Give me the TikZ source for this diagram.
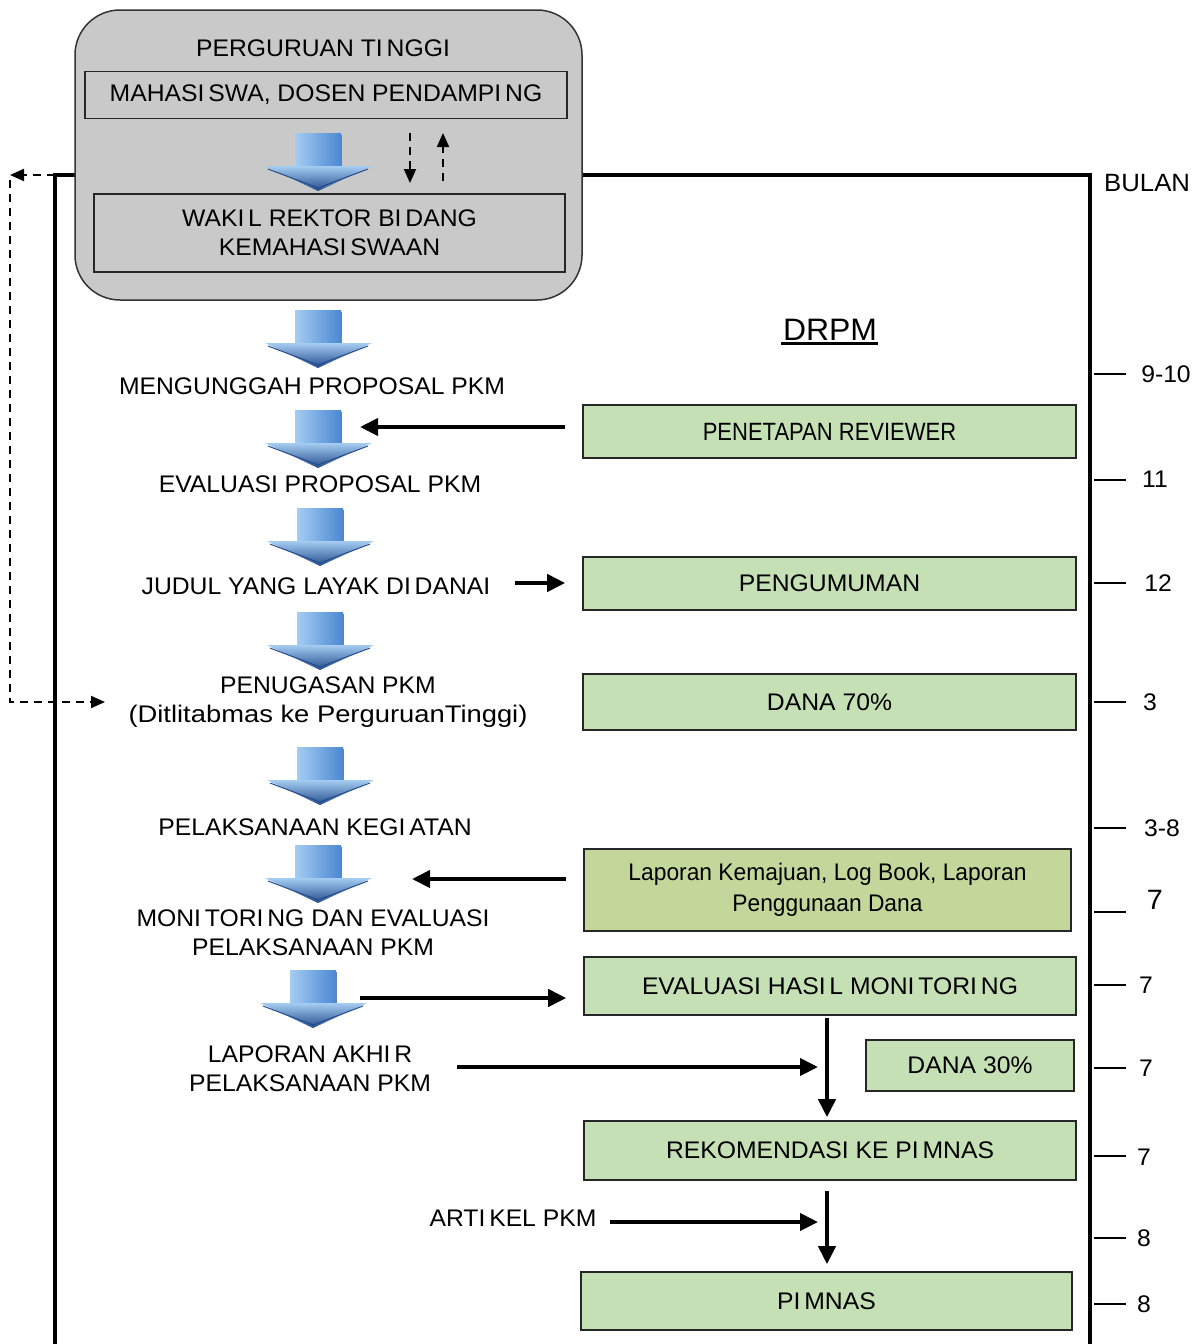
\documentclass[tikz,border=0pt]{standalone}
\usepackage{fontspec}
\setmainfont[FakeStretch=1.03]{Liberation Sans}
\newfontfamily\narrowfont[FakeStretch=0.88]{Liberation Sans}
\newfontfamily\semifont[FakeStretch=0.95]{Liberation Sans}
\newfontfamily\wideLC[FakeStretch=1.14]{Liberation Sans}
\newcommand\Ik{I\kern0.16em}
\usetikzlibrary{arrows.meta}
\definecolor{greyfill}{RGB}{201,201,201}
\definecolor{greenfill}{RGB}{197,224,180}
\definecolor{olivefill}{RGB}{196,215,155}
\definecolor{blueA}{RGB}{165,205,242}
\definecolor{blueB}{RGB}{75,135,210}
\definecolor{blueC}{RGB}{35,75,140}
\begin{document}
\begin{tikzpicture}[x=1pt,y=-1pt,
  lbl/.style={font=\fontsize{24}{29}\selectfont, align=center, inner sep=0pt},
  gbox/.style={draw=black!85, line width=1.6pt, fill=greenfill, inner sep=0pt, align=center, font=\fontsize{24}{29}\selectfont},
  ibox/.style={draw=black!85, line width=1.4pt, fill=greyfill, inner sep=0pt, align=center, font=\fontsize{24}{29}\selectfont},
  thickarr/.style={line width=4pt, -{Triangle[length=18pt,width=17pt]}},
  dasharr/.style={line width=2pt, dash pattern=on 8pt off 6pt, -{Triangle[length=14pt,width=12pt]}},
  tick/.style={line width=2pt},
  blockarr/.pic={
    \shade[left color=blueA, right color=blueB] (-23,0) rectangle (23,36);
    \draw[blueC!70, line width=0.8pt] (23,2) -- (23,36);
    \shade[top color=blueA, bottom color=blueC] (-53,33) -- (54,33) -- (0,58) -- cycle;
    \draw[blueC, line width=1pt] (-50,36) -- (0,55) -- (50,36);
  }]
\useasboundingbox (0,0) rectangle (1200,1344);
\clip (0,0) rectangle (1200,1344);
% main frame
\coordinate (fc) at (55,175);
\draw[line width=4.5pt] (55,1360) -- (fc) -- (1090,175) -- (1090,1360);
% grey box
\node[draw=black!80, line width=1.5pt, rounded corners=45pt, fill=greyfill, minimum width=507pt, minimum height=290pt] (pt) at (328.5,155) {};
\node[lbl] (ptt) at (323,48) {PERGURUAN T\Ik NGGI};
\node[ibox, minimum width=482pt, minimum height=47pt] (mhs) at (326,95) {MAHAS\Ik SWA, DOSEN PENDAMP\Ik NG};
\node[ibox, minimum width=471pt, minimum height=78pt] (wr) at (329.5,233) {WAK\Ik L REKTOR B\Ik DANG\\KEMAHAS\Ik SWAAN};
\pic at (318,133) {blockarr};
\coordinate (d1) at (410,133); \coordinate (d2) at (410,183);
\coordinate (u1) at (443,181); \coordinate (u2) at (443,133);
\draw[dasharr] (d1) -- (d2);
\draw[dasharr] (u1) -- (u2);
% left dashed
\coordinate (lt) at (10,175);
\coordinate (lb) at (105,702);
\draw[dasharr] (fc) -- (lt);
\draw[dasharr] ([yshift=-5pt]lt) |- (lb);
% flow column
\pic at (318,310) {blockarr};
\node[lbl] (t1) at (312,386) {MENGUNGGAH PROPOSAL PKM};
\pic at (318,410) {blockarr};
\node[lbl] (t2) at (320,484) {EVALUASI PROPOSAL PKM};
\pic at (320,508) {blockarr};
\node[lbl] (t3) at (316,586) {JUDUL YANG LAYAK D\Ik DANAI};
\pic at (320,612) {blockarr};
\node[lbl] (t4) at (328,702) {PENUGASAN PKM\\{\wideLC(Ditlitabmas ke PerguruanTinggi)}};
\pic at (320,747) {blockarr};
\node[lbl] (t5) at (315,827) {PELAKSANAAN KEG\Ik ATAN};
\pic at (318,845) {blockarr};
\node[lbl] (t6) at (313,933) {MON\Ik TOR\Ik NG DAN EVALUASI\\PELAKSANAAN PKM};
\pic at (313,970) {blockarr};
\node[lbl] (t7) at (310,1069) {LAPORAN AKH\Ik R\\PELAKSANAAN PKM};
\node[lbl] (t8) at (513,1218) {ART\Ik KEL PKM};
% DRPM
\node[lbl, font=\fontsize{31}{36}\selectfont] (drpm) at (830,330) {DRPM};
\draw[line width=3pt] (781,343) -- (878,343);
% green boxes
\node[gbox, minimum width=493pt, minimum height=53pt, font=\narrowfont\fontsize{25}{29}\selectfont] (rev) at (829.5,431.5) {PENETAPAN REVIEWER};
\node[gbox, minimum width=493pt, minimum height=53pt] (peng) at (829.5,583.5) {PENGUMUMAN};
\node[gbox, minimum width=493pt, minimum height=56pt] (d70) at (829.5,702) {DANA 70\%};
\node[gbox, fill=olivefill, minimum width=487pt, minimum height=82pt, font=\semifont\fontsize{24}{31}\selectfont] (lap) at (827.5,890) {Laporan Kemajuan, Log Book, Laporan\\Penggunaan Dana};
\node[gbox, minimum width=492pt, minimum height=58pt] (evh) at (830,986) {EVALUASI HAS\Ik L MON\Ik TOR\Ik NG};
\node[gbox, minimum width=208pt, minimum height=51pt] (d30) at (970,1065.5) {DANA 30\%};
\node[gbox, minimum width=492pt, minimum height=59pt] (rek) at (830,1150.5) {REKOMENDASI KE P\Ik MNAS};
\node[gbox, minimum width=491pt, minimum height=58pt] (pim) at (826.5,1301) {P\Ik MNAS};
% arrows
\coordinate (a1e) at (360,427);
\draw[thickarr] ([xshift=-17pt]a1e -| rev.west) -- (a1e);
\coordinate (a2s) at (515,583);
\draw[thickarr] (a2s) -- ([xshift=-17pt]a2s -| peng.west);
\coordinate (a3e) at (412,879);
\draw[thickarr] ([xshift=-17pt]a3e -| lap.west) -- (a3e);
\coordinate (a4s) at (360,998);
\draw[thickarr] (a4s) -- ([xshift=-17pt]a4s -| evh.west);
\coordinate (v1) at (827,1067);
\coordinate (a5s) at (457,1067);
\draw[thickarr] (a5s) -- ([xshift=-9pt]v1);
\draw[thickarr] ([yshift=-2pt]evh.south -| v1) -- ([yshift=3pt]rek.north -| v1);
\coordinate (v2) at (827,1222);
\coordinate (a6s) at (610,1222);
\draw[thickarr] (a6s) -- ([xshift=-9pt]v2);
\draw[thickarr] ([yshift=-10pt]rek.south -| v2) -- ([yshift=7pt]pim.north -| v2);
% month scale
\node[lbl, anchor=west, font=\fontsize{25}{29}\selectfont] (bulan) at (1104,183) {BULAN};
\foreach \yy/\txt/\tx/\ty in {374/9-10/1166/374, 480/11/1155/479, 583/12/1158/583, 702/3/1150/702, 828/3-8/1162/828, 985/7/1146/985, 1068/7/1146/1068, 1156/7/1144/1157, 1238/8/1144/1238, 1304/8/1144/1304}{
  \coordinate (tk\yy) at (1094,\yy);
  \draw[tick] (tk\yy) -- ++(32,0);
  \node[lbl] (m\yy) at (\tx,\ty) {\txt};
}
\coordinate (tk912) at (1094,912);
\draw[tick] (tk912) -- ++(32,0);
\node[lbl, font=\fontsize{28}{32}\selectfont] (m912) at (1155,900) {7};
\end{tikzpicture}
\end{document}
